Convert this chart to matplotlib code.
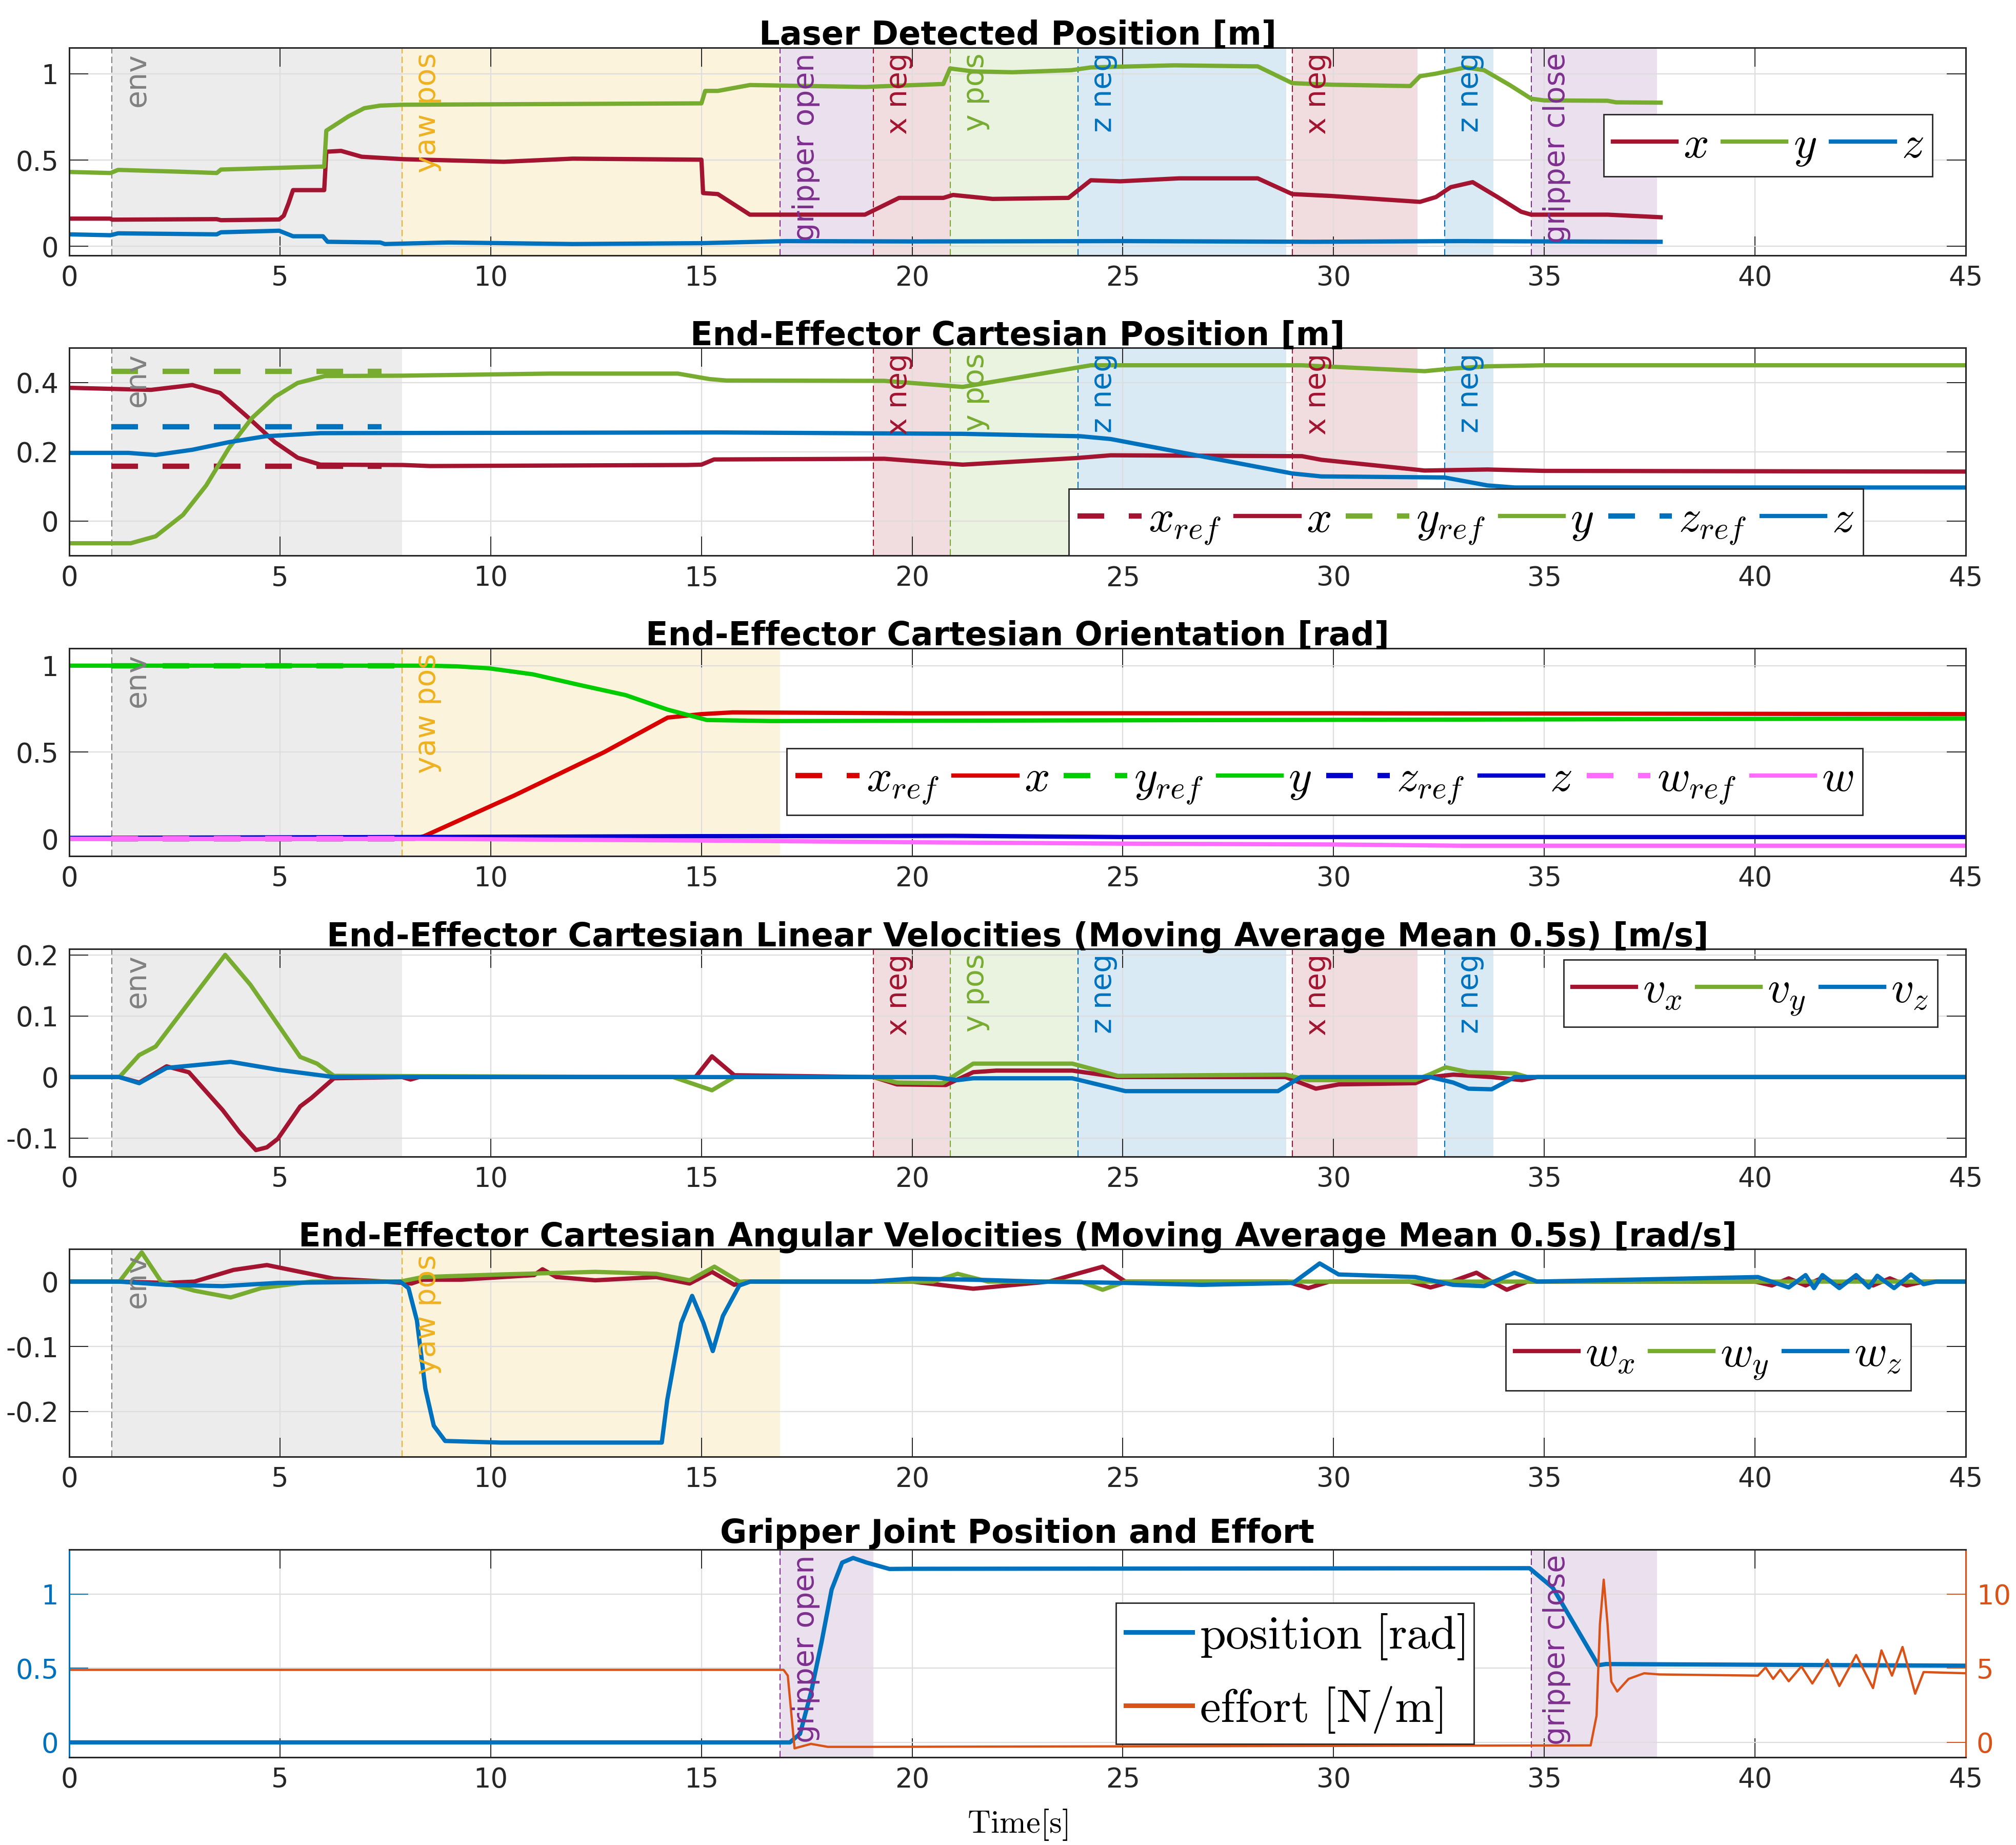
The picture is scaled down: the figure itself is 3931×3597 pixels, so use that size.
import numpy as np
import matplotlib
matplotlib.use('Agg')
import matplotlib.pyplot as plt
from matplotlib.lines import Line2D
from matplotlib.transforms import blended_transform_factory

plt.rcParams['font.family'] = ['DejaVu Sans']
plt.rcParams['mathtext.fontset'] = 'cm'
plt.rcParams['axes.unicode_minus'] = False

# ------------------------------------------------------------------ data
x_ticks = [0, 5, 10, 15, 20, 25, 30, 35, 40, 45]
x_tick_labels = ['0', '5', '10', '15', '20', '25', '30', '35', '40', '45']

phase_start = [1.01, 7.90, 16.87, 19.08, 20.90, 23.93, 29.02, 32.64, 34.69]
phase_end = [7.90, 16.87, 19.08, 20.90, 23.93, 28.88, 31.99, 33.79, 37.68]
phase_label = ['env', 'yaw pos', 'gripper open', 'x neg', 'y pos', 'z neg',
               'x neg', 'z neg', 'gripper close']
phase_kind = ['env', 'yaw', 'grip', 'x', 'y', 'z', 'x', 'z', 'grip']

# Panel 1: laser detected position
laser_x_t = [0, 0.98, 1.02, 3.5, 3.6, 4.98, 5.09, 5.20, 5.31, 6.05, 6.10, 6.45, 6.94,
             7.92, 10.31, 11.95, 15.0, 15.04, 15.39, 16.15, 18.88, 19.69, 20.74, 20.97,
             21.91, 23.71, 24.24, 24.94, 26.33, 28.2, 29.02, 29.95, 32.05, 32.43, 32.78,
             33.3, 33.89, 34.45, 34.69, 36.5, 37.76]
laser_x = [0.161, 0.161, 0.155, 0.158, 0.152, 0.156, 0.178, 0.247, 0.326, 0.326, 0.548,
           0.553, 0.519, 0.505, 0.49, 0.508, 0.502, 0.309, 0.303, 0.184, 0.184, 0.281,
           0.281, 0.298, 0.275, 0.281, 0.383, 0.377, 0.394, 0.394, 0.303, 0.292, 0.258,
           0.286, 0.343, 0.372, 0.286, 0.201, 0.184, 0.184, 0.169]
laser_y_t = [0, 0.98, 1.16, 2.70, 3.50, 3.60, 4.98, 5.96, 6.05, 6.10, 6.62, 7.0, 7.38,
             7.92, 15.0, 15.09, 15.39, 16.15, 18.88, 20.74, 20.90, 21.44, 22.38, 23.78,
             24.24, 26.22, 28.2, 29.02, 29.95, 31.82, 32.05, 32.43, 33.13, 33.57, 34.18,
             34.69, 35.0, 36.5, 36.7, 37.76]
laser_y = [0.431, 0.425, 0.443, 0.432, 0.425, 0.445, 0.455, 0.462, 0.462, 0.67, 0.752,
           0.80, 0.815, 0.82, 0.828, 0.90, 0.90, 0.934, 0.923, 0.94, 1.03, 1.013, 1.008,
           1.02, 1.036, 1.048, 1.042, 0.945, 0.936, 0.928, 0.985, 1.0, 1.036, 1.02,
           0.934, 0.855, 0.845, 0.843, 0.834, 0.832]
laser_z_t = [0, 0.98, 1.16, 3.5, 3.6, 4.98, 5.31, 6.02, 6.13, 7.38, 7.49, 9.0, 11.95,
             15.0, 17.0, 20.0, 25.0, 29.5, 33.0, 37.76]
laser_z = [0.07, 0.065, 0.076, 0.07, 0.082, 0.091, 0.059, 0.059, 0.027, 0.023, 0.014,
           0.023, 0.014, 0.019, 0.031, 0.029, 0.031, 0.027, 0.031, 0.027]

# Panel 2: end-effector cartesian position
ee_x_t = [0, 1.94, 2.92, 3.58, 4.22, 4.88, 5.42, 5.96, 7.92, 8.56, 14.66, 15.0, 15.3,
          19.34, 21.2, 23.89, 24.71, 29.25, 29.71, 32.16, 33.65, 35.0, 45.0]
ee_x = [0.385, 0.379, 0.393, 0.370, 0.302, 0.228, 0.183, 0.163, 0.162, 0.159, 0.162,
        0.163, 0.178, 0.180, 0.163, 0.182, 0.19, 0.1875, 0.177, 0.146, 0.149, 0.145, 0.143]
ee_y_t = [0, 1.46, 2.05, 2.70, 3.25, 3.79, 4.33, 4.88, 5.42, 6.07, 7.92, 11.4, 14.44,
          15.2, 15.6, 19.34, 21.2, 24.24, 29.25, 32.16, 32.86, 33.65, 35.0, 45.0]
ee_y = [-0.064, -0.064, -0.044, 0.018, 0.103, 0.211, 0.297, 0.359, 0.399, 0.419, 0.42,
        0.426, 0.426, 0.41, 0.406, 0.405, 0.3875, 0.45, 0.45, 0.433, 0.441, 0.447, 0.45,
        0.45]
ee_z_t = [0, 1.4, 2.05, 2.92, 3.79, 4.66, 5.96, 15.4, 21.2, 24.0, 24.71, 29.02, 29.71,
          32.63, 33.65, 34.3, 45.0]
ee_z = [0.197, 0.197, 0.191, 0.206, 0.228, 0.245, 0.254, 0.256, 0.252, 0.245, 0.237,
        0.1375, 0.129, 0.126, 0.103, 0.097, 0.097]
ee_ref_t = [1.0, 7.41]
ee_x_ref = [0.159, 0.159]
ee_y_ref = [0.433, 0.433]
ee_z_ref = [0.272, 0.272]

# Panel 3: end-effector orientation (quaternion)
ori_x_t = [0, 8.2, 8.42, 10.56, 12.69, 14.2, 15.0, 15.74, 20.0, 30.0, 45.0]
ori_x = [0.0, 0.0, 0.015, 0.25, 0.5, 0.70, 0.72, 0.73, 0.725, 0.725, 0.72]
ori_y_t = [0, 8.5, 9.2, 9.95, 11.0, 12.08, 13.2, 14.2, 15.13, 16.66, 45.0]
ori_y = [1.0, 1.0, 0.996, 0.985, 0.95, 0.89, 0.83, 0.746, 0.686, 0.68, 0.695]
ori_z_t = [0, 8.0, 15.0, 21.0, 25.0, 45.0]
ori_z = [0.005, 0.01, 0.015, 0.017, 0.01, 0.01]
ori_w_t = [0, 8.0, 15.0, 20.0, 25.0, 30.0, 33.0, 45.0]
ori_w = [0.0, 0.0, -0.01, -0.02, -0.028, -0.033, -0.04, -0.04]
ori_ref_t = [1.0, 7.9]
ori_x_ref = [0.0, 0.0]
ori_y_ref = [1.0, 1.0]
ori_z_ref = [0.0, 0.0]
ori_w_ref = [0.0, 0.0]

# Panel 4: linear velocities
vx_t = [0, 1.19, 1.66, 2.31, 2.84, 3.64, 4.04, 4.43, 4.69, 4.95, 5.48, 5.75, 6.28, 7.9,
        8.1, 8.3, 14.86, 15.25, 15.78, 19.09, 19.64, 20.8, 21.45, 22.0, 23.8, 24.88,
        28.86, 29.58, 30.12, 31.94, 32.3, 32.84, 33.75, 34.47, 34.83, 45.0]
vx = [0, 0, -0.009, 0.0176, 0.0078, -0.054, -0.09, -0.1195, -0.115, -0.101, -0.048,
      -0.034, -0.002, 0, -0.004, 0, 0, 0.034, 0.003, 0, -0.012, -0.013, 0.008, 0.0106,
      0.0106, 0, 0, -0.019, -0.012, -0.010, 0, 0.004, 0, -0.005, 0, 0]
vy_t = [0, 1.19, 1.66, 2.05, 3.70, 4.30, 4.95, 5.48, 5.88, 6.28, 14.33, 15.25, 15.78,
        19.09, 19.64, 20.72, 21.45, 23.8, 24.88, 28.86, 29.40, 31.94, 32.3, 32.66, 33.2,
        34.3, 34.6, 45.0]
vy = [0, 0, 0.036, 0.05, 0.2, 0.151, 0.086, 0.033, 0.022, 0.002, 0, -0.0216, 0, 0,
      -0.009, -0.010, 0.022, 0.022, 0.002, 0.004, -0.005, -0.005, 0.005, 0.016, 0.008,
      0.006, 0, 0]
vz_t = [0, 1.19, 1.66, 2.31, 3.83, 4.95, 6.28, 20.54, 21.08, 21.45, 23.8, 25.06, 28.68,
        29.22, 32.3, 32.84, 33.2, 33.75, 34.3, 45.0]
vz = [0, 0, -0.01, 0.015, 0.025, 0.012, 0, 0, -0.005, -0.002, -0.002, -0.023, -0.023,
      0, 0, -0.009, -0.019, -0.020, 0, 0]

# Panel 5: angular velocities
wx_t = [0, 1.19, 2.31, 2.97, 3.90, 4.69, 5.48, 6.28, 7.5, 8.12, 8.39, 9.31, 11.03, 11.23,
        11.56, 12.48, 13.93, 14.72, 15.25, 15.78, 16.0, 20.0, 21.45, 23.25, 24.52, 25.06,
        28.9, 29.4, 29.9, 31.8, 32.3, 32.8, 33.39, 33.75, 34.11, 34.6, 40.0, 40.4, 40.8,
        41.2, 41.6, 42.0, 42.4, 42.8, 43.2, 43.6, 44.0, 45.0]
wx = [0, 0, -0.002, 0, 0.018, 0.0255, 0.015, 0.0045, 0, -0.003, 0.003, 0.003, 0.01,
      0.019, 0.007, 0.002, 0.007, -0.003, 0.015, -0.005, 0, 0, -0.011, 0, 0.023, 0,
      0, -0.01, 0, 0, -0.009, 0, 0.0137, 0, -0.0126, 0, 0, -0.006, 0.005, -0.006,
      0.006, -0.005, 0.006, -0.006, 0.005, -0.006, 0, 0]
wy_t = [0, 1.19, 1.72, 2.18, 2.97, 3.83, 4.56, 5.75, 7.85, 8.39, 10.24, 12.48, 13.93,
        14.72, 15.31, 15.90, 20.5, 21.08, 21.8, 24.0, 24.52, 25.06, 45.0]
wy = [0, 0, 0.045, 0, -0.014, -0.0245, -0.010, 0, 0, 0.007, 0.011, 0.015, 0.012, 0.002,
      0.023, 0, 0, 0.012, 0, 0, -0.0126, 0, 0]
wz_t = [0, 1.19, 2.31, 3.64, 4.95, 7.85, 8.05, 8.25, 8.45, 8.65, 8.92, 10.24, 14.06,
        14.19, 14.52, 14.78, 15.05, 15.27, 15.51, 15.90, 16.16, 19.0, 20.0, 21.45, 23.0,
        25.06, 26.87, 29.04, 29.67, 30.12, 31.94, 32.84, 33.57, 34.29, 34.83, 40.07,
        40.8, 41.2, 41.4, 41.6, 42.0, 42.4, 42.7, 42.9, 43.3, 43.7, 44.0, 44.3, 45.0]
wz = [0, 0, -0.005, -0.007, -0.002, 0, -0.01, -0.06, -0.165, -0.222, -0.2455, -0.248,
      -0.248, -0.182, -0.064, -0.022, -0.064, -0.107, -0.053, -0.006, 0, 0, 0.0045,
      0.003, 0, -0.002, -0.005, -0.002, 0.028, 0.011, 0.007, -0.005, -0.007, 0.0137, 0,
      0.007, -0.009, 0.01, -0.01, 0.01, -0.01, 0.01, -0.009, 0.009, -0.01, 0.011,
      -0.004, 0, 0]

# Panel 6: gripper joint
grip_pos_t = [0, 17.10, 17.34, 17.6, 17.85, 18.09, 18.34, 18.6, 18.92, 19.46, 20.0,
              34.65, 35.2, 36.28, 36.46, 45.0]
grip_pos = [0, 0, 0.058, 0.335, 0.674, 1.03, 1.212, 1.243, 1.212, 1.169, 1.17, 1.174,
            1.043, 0.52, 0.528, 0.517]
grip_eff_t = [0, 16.95, 17.05, 17.21, 17.6, 18.0, 19.0, 36.10, 36.24, 36.32, 36.41,
              36.50, 36.59, 36.73, 37.0, 37.37, 37.73, 40.07, 40.25, 40.43, 40.6, 40.8,
              41.1, 41.36, 41.72, 42.0, 42.4, 42.8, 43.0, 43.25, 43.5, 43.8, 44.0, 45.0]
grip_eff = [4.89, 4.89, 4.5, -0.4, -0.1, -0.3, -0.3, -0.2, 1.8, 7.97, 10.97, 8.0, 4.1,
            3.43, 4.28, 4.66, 4.58, 4.5, 5.05, 4.28, 4.9, 4.12, 5.12, 3.97, 5.58, 3.8,
            5.89, 3.66, 6.2, 4.5, 6.43, 3.28, 4.74, 4.66]

# ------------------------------------------------------------------ style
DARK = (0.15, 0.15, 0.15)
C_X, C_Y, C_Z = '#A2142F', '#77AC30', '#0072BD'
C_ORANGE, C_PURPLE, C_AMBER, C_GRAY = '#D95319', '#7E2F8E', '#EDB120', '#808080'
PHASE_COLORS = {'env': C_GRAY, 'yaw': C_AMBER, 'grip': C_PURPLE,
                'x': C_X, 'y': C_Y, 'z': C_Z}
O_X, O_Y, O_Z, O_W = (0.85, 0.0, 0.0), (0.0, 0.8, 0.0), (0.0, 0.0, 0.8), (1.0, 0.42, 1.0)

W, H, DPI = 3931, 3597, 100
fig = plt.figure(figsize=(W / DPI, H / DPI), dpi=DPI)
LEFT = 135 / W
AW = (3833 - 135) / W
AH = 405 / H
tops_px = [93, 678.4, 1264, 1849.7, 2435.3, 3020.9]

TICK_FS = 38
LEG_FS = 63
LW = 6
REF_LW = 7.5
REF_LS = (0, (5, 4.6))


def make_ax(k):
    return fig.add_axes([LEFT, 1 - (tops_px[k] + 405) / H, AW, AH])


def style_ax(ax, yt, ylab, ylim, title):
    ax.set_xlim(0, 45)
    ax.set_ylim(*ylim)
    ax.set_xticks(x_ticks)
    ax.set_xticklabels(x_tick_labels)
    ax.set_yticks(yt)
    ax.set_yticklabels(ylab)
    ax.tick_params(direction='in', length=26.6, width=1.4, top=True, right=True,
                   labelsize=TICK_FS, colors=DARK)
    ax.tick_params(axis='x', pad=13)
    ax.tick_params(axis='y', pad=15)
    for s in ax.spines.values():
        s.set_color(DARK)
        s.set_linewidth(2.2)
    ax.grid(True, color='#DDDDDD', lw=1.6)
    ax.set_axisbelow('line')
    ax.set_title(title, fontsize=46, fontweight='bold', pad=4)


def draw_phases(ax, idxs, text_ax=None):
    text_ax = text_ax or ax
    tr = blended_transform_factory(ax.transData, ax.transAxes)
    for i in idxs:
        c = PHASE_COLORS[phase_kind[i]]
        ax.axvspan(phase_start[i], phase_end[i], color=c, alpha=0.15, lw=0, zorder=0.5)
        ax.axvline(phase_start[i], color=c, lw=1.5, ls=(0, (6, 3)), zorder=1.6)
        text_ax.text(phase_start[i] + 0.27, 0.975, phase_label[i], rotation=90,
                     ha='left', va='top', color=c, fontsize=41, transform=tr, zorder=5)


def add_legend(ax, handles, labels, ncol, loc, anchor, fs=LEG_FS):
    leg = ax.legend(handles, labels, ncol=ncol, loc=loc, bbox_to_anchor=anchor,
                    fontsize=fs, frameon=True, fancybox=False, framealpha=1,
                    edgecolor=DARK, handlelength=1.42, handletextpad=0.15,
                    columnspacing=0.33, borderpad=0.2, borderaxespad=0)
    leg.get_frame().set_linewidth(2)
    leg.set_zorder(10)
    return leg


# ---------------- Panel 1
ax1 = make_ax(0)
draw_phases(ax1, range(9))
h1 = ax1.plot(laser_x_t, laser_x, color=C_X, lw=LW)[0]
h2 = ax1.plot(laser_y_t, laser_y, color=C_Y, lw=LW)[0]
h3 = ax1.plot(laser_z_t, laser_z, color=C_Z, lw=LW)[0]
style_ax(ax1, [0, 0.5, 1], ['0', '0.5', '1'], (-0.052, 1.15), 'Laser Detected Position [m]')
add_legend(ax1, [h1, h2, h3], [r'$x$', r'$y$', r'$z$'], 3, 'upper right', (0.9825, 0.679))

# ---------------- Panel 2
ax2 = make_ax(1)
draw_phases(ax2, [0, 3, 4, 5, 6, 7])
r1 = ax2.plot(ee_ref_t, ee_x_ref, color=C_X, lw=REF_LW, ls=REF_LS)[0]
l1 = ax2.plot(ee_x_t, ee_x, color=C_X, lw=LW)[0]
r2 = ax2.plot(ee_ref_t, ee_y_ref, color=C_Y, lw=REF_LW, ls=REF_LS)[0]
l2 = ax2.plot(ee_y_t, ee_y, color=C_Y, lw=LW)[0]
r3 = ax2.plot(ee_ref_t, ee_z_ref, color=C_Z, lw=REF_LW, ls=REF_LS)[0]
l3 = ax2.plot(ee_z_t, ee_z, color=C_Z, lw=LW)[0]
style_ax(ax2, [0, 0.2, 0.4], ['0', '0.2', '0.4'], (-0.1, 0.5), 'End-Effector Cartesian Position [m]')
add_legend(ax2, [r1, l1, r2, l2, r3, l3],
           [r'$x_{ref}$', r'$x$', r'$y_{ref}$', r'$y$', r'$z_{ref}$', r'$z$'],
           6, 'lower right', (0.9458, 0.0))

# ---------------- Panel 3
ax3 = make_ax(2)
draw_phases(ax3, [0, 1])
hs = []
for (rt, rv, t, v, c) in [(ori_ref_t, ori_x_ref, ori_x_t, ori_x, O_X),
                          (ori_ref_t, ori_y_ref, ori_y_t, ori_y, O_Y),
                          (ori_ref_t, ori_z_ref, ori_z_t, ori_z, O_Z),
                          (ori_ref_t, ori_w_ref, ori_w_t, ori_w, O_W)]:
    hs.append(ax3.plot(rt, rv, color=c, lw=REF_LW, ls=REF_LS)[0])
    hs.append(ax3.plot(t, v, color=c, lw=LW)[0])
style_ax(ax3, [0, 0.5, 1], ['0', '0.5', '1'], (-0.1, 1.1), 'End-Effector Cartesian Orientation [rad]')
add_legend(ax3, hs, [r'$x_{ref}$', r'$x$', r'$y_{ref}$', r'$y$', r'$z_{ref}$', r'$z$',
                     r'$w_{ref}$', r'$w$'], 8, 'upper right', (0.9456, 0.519))

# ---------------- Panel 4
ax4 = make_ax(3)
draw_phases(ax4, [0, 3, 4, 5, 6, 7])
a = ax4.plot(vx_t, vx, color=C_X, lw=LW)[0]
b = ax4.plot(vy_t, vy, color=C_Y, lw=LW)[0]
c = ax4.plot(vz_t, vz, color=C_Z, lw=LW)[0]
style_ax(ax4, [-0.1, 0, 0.1, 0.2], ['-0.1', '0', '0.1', '0.2'], (-0.13, 0.21),
         'End-Effector Cartesian Linear Velocities (Moving Average Mean 0.5s) [m/s]')
add_legend(ax4, [a, b, c], [r'$v_x$', r'$v_y$', r'$v_z$'], 3, 'upper right', (0.985, 0.947))

# ---------------- Panel 5
ax5 = make_ax(4)
draw_phases(ax5, [0, 1])
a = ax5.plot(wx_t, wx, color=C_X, lw=LW)[0]
b = ax5.plot(wy_t, wy, color=C_Y, lw=LW)[0]
c = ax5.plot(wz_t, wz, color=C_Z, lw=LW)[0]
style_ax(ax5, [-0.2, -0.1, 0], ['-0.2', '-0.1', '0'], (-0.27, 0.05),
         'End-Effector Cartesian Angular Velocities (Moving Average Mean 0.5s) [rad/s]')
add_legend(ax5, [a, b, c], [r'$w_x$', r'$w_y$', r'$w_z$'], 3, 'upper right', (0.971, 0.640))

# ---------------- Panel 6
ax6 = make_ax(5)
ax6r = ax6.twinx()
draw_phases(ax6, [2, 8], text_ax=ax6r)
p = ax6.plot(grip_pos_t, grip_pos, color=C_Z, lw=LW)[0]
e = ax6r.plot(grip_eff_t, grip_eff, color=C_ORANGE, lw=3.2)[0]
style_ax(ax6, [0, 0.5, 1], ['0', '0.5', '1'], (-0.1, 1.3), 'Gripper Joint Position and Effort')
ax6.tick_params(axis='y', which='both', right=False, colors=C_Z)
ax6.spines['left'].set_color(C_Z)
ax6.spines['right'].set_visible(False)
ax6r.set_ylim(-1, 13)
ax6r.set_yticks([0, 5, 10])
ax6r.set_yticklabels(['0', '5', '10'])
ax6r.tick_params(axis='y', direction='in', length=26.6, width=1.4, labelsize=TICK_FS,
                 colors=C_ORANGE, pad=15)
for s in ax6r.spines.values():
    s.set_color(DARK)
    s.set_linewidth(2.2)
ax6r.spines['right'].set_color(C_ORANGE)
ax6r.spines['left'].set_color(C_Z)
hp = Line2D([], [], color=C_Z, lw=6.5)
he = Line2D([], [], color=C_ORANGE, lw=6.5)
add_legend(ax6r, [hp, he], [r'$\mathrm{position\ [rad]}$', r'$\mathrm{effort\ [N/m]}$'],
           1, 'upper left', (0.552, 0.744), fs=66)

fig.text(LEFT + AW / 2, 0.0066, r'$\mathrm{Time[s]}$', ha='center', va='baseline',
         fontsize=45)

fig.savefig('out.png', dpi=DPI)
